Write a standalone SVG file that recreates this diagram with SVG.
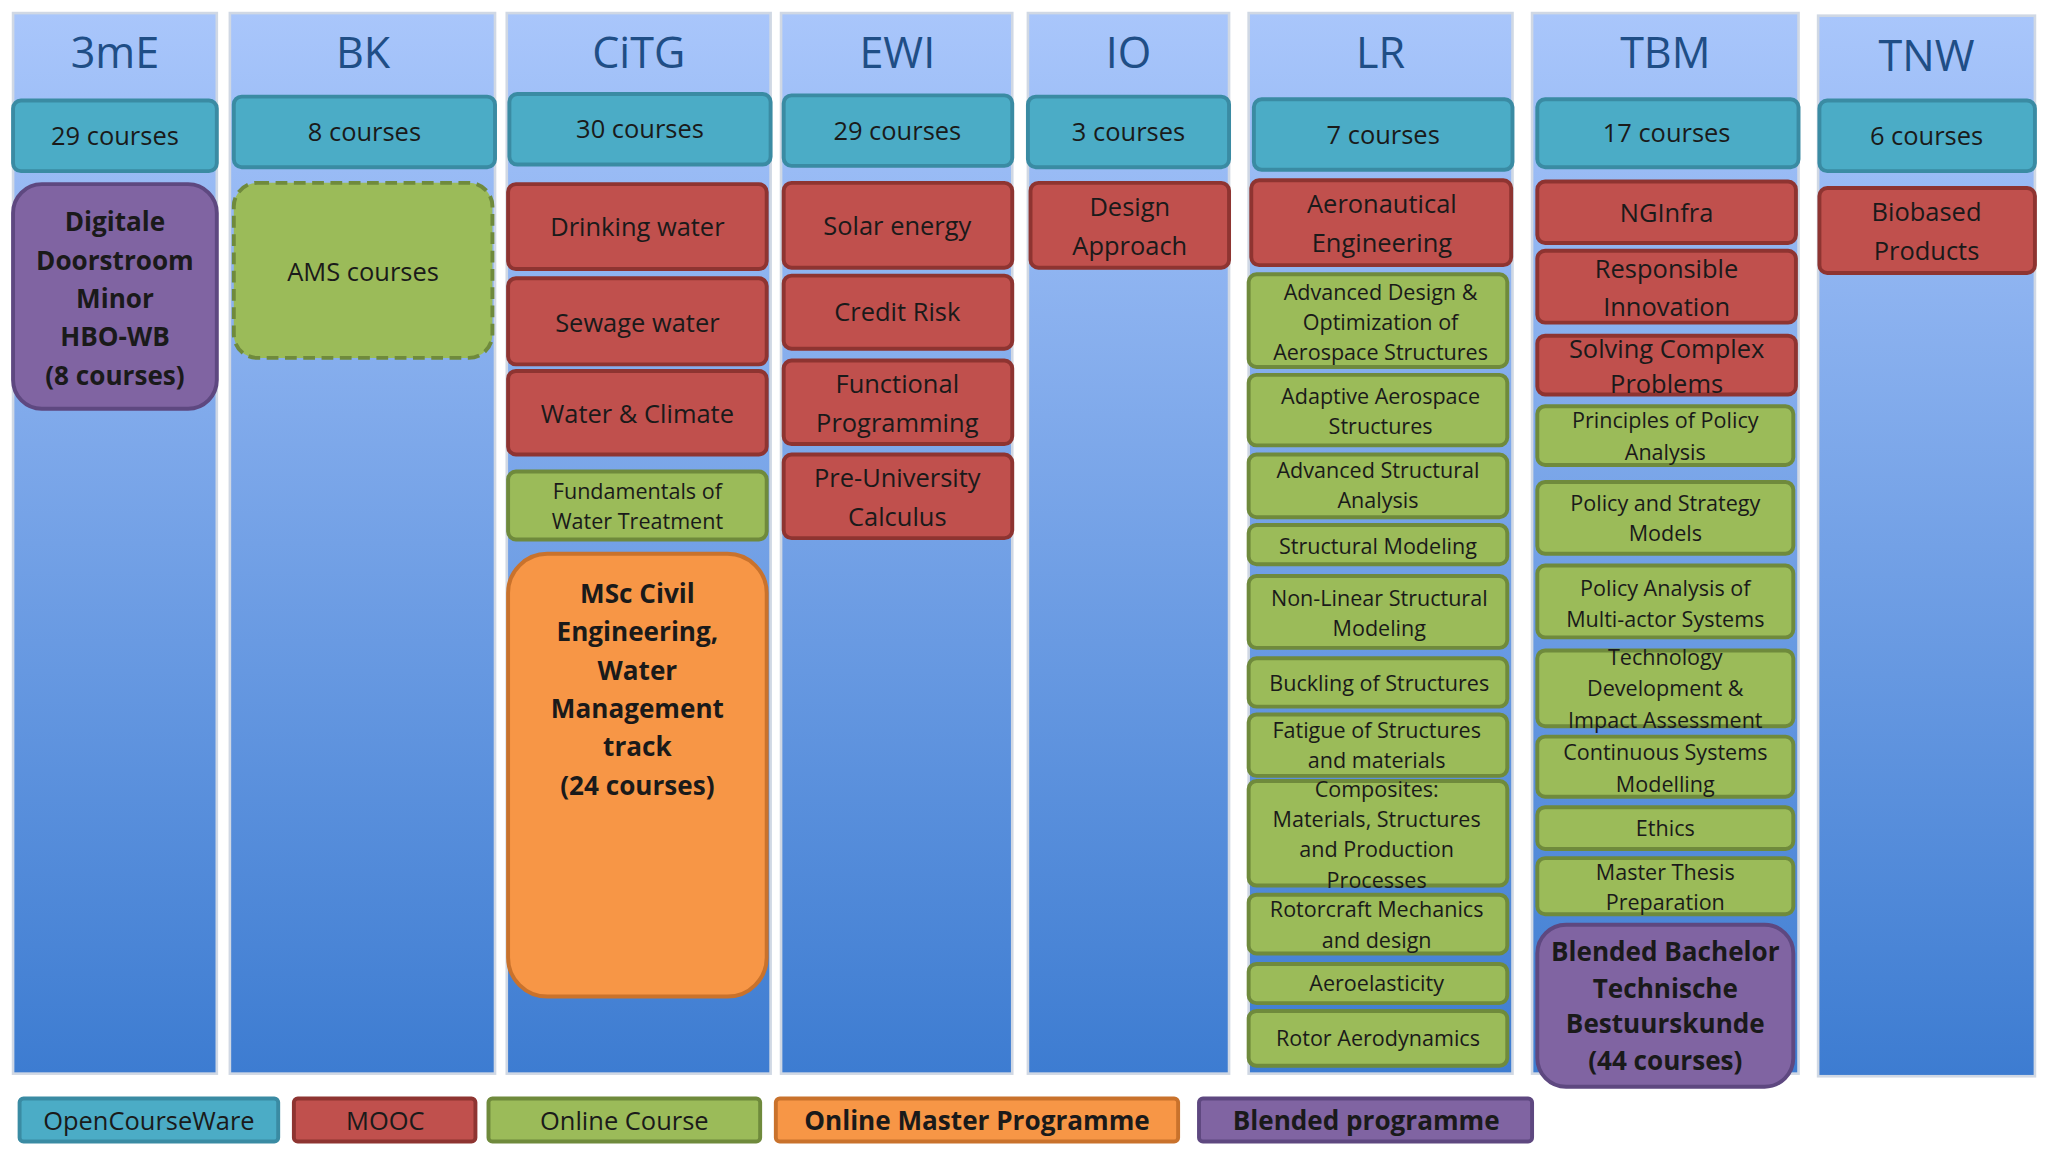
<svg xmlns="http://www.w3.org/2000/svg" width="2048" height="1152" viewBox="0 0 2048 1152">
<defs>
<linearGradient id="col" x1="0" y1="0" x2="0" y2="1">
<stop offset="0" stop-color="#a9c6fb"/><stop offset="1" stop-color="#3d7cd1"/>
</linearGradient>
<style>
text{font-family:"Open Sans","Liberation Sans",sans-serif;fill:#1a1a1a;text-anchor:middle}
.col{fill:url(#col);stroke:#d0d8e4;stroke-width:2}
.h{font-size:33px;fill:#1f4e86}
.ocw{fill:#4bacc6;stroke:#3a8ba3;stroke-width:3}
.mooc{fill:#c0504d;stroke:#8e3431;stroke-width:3}
.oc{fill:#9bbb59;stroke:#6f8a3c;stroke-width:3}
.om{fill:#f79646;stroke:#c9722c;stroke-width:3}
.bp{fill:#8064a2;stroke:#5e4880;stroke-width:3}
.t{font-size:19.5px}
.s{font-size:16.5px}
.b{font-size:20px;font-weight:bold}
</style>
</defs>
<g transform="scale(1.30612)">
<g id="columns">
<rect class="col" x="10" y="10" width="156" height="812"/>
<rect class="col" x="176" y="10" width="203" height="812"/>
<rect class="col" x="388" y="10" width="202" height="812"/>
<rect class="col" x="598" y="10" width="177" height="812"/>
<rect class="col" x="787" y="10" width="154" height="812"/>
<rect class="col" x="956" y="10" width="202" height="812"/>
<rect class="col" x="1173" y="10" width="204" height="812"/>
<rect class="col" x="1392" y="12" width="166" height="812"/>
<text class="h" x="88" y="52">3mE</text>
<text class="h" x="278" y="52">BK</text>
<text class="h" x="489" y="52">CiTG</text>
<text class="h" x="687" y="52">EWI</text>
<text class="h" x="864" y="52">IO</text>
<text class="h" x="1057" y="52">LR</text>
<text class="h" x="1275" y="52">TBM</text>
<text class="h" x="1475" y="54">TNW</text>
</g>
<g id="c3mE">
<rect class="ocw" x="10" y="77" width="156" height="54" rx="6"/><text class="t" x="88" y="111">29 courses</text>
<rect class="bp" x="10" y="141" width="156" height="172" rx="22"/>
<text class="b" x="88" y="177">Digitale</text><text class="b" x="88" y="207">Doorstroom</text><text class="b" x="88" y="236">Minor</text><text class="b" x="88" y="265">HBO-WB</text><text class="b" x="88" y="295">(8 courses)</text>
</g>
<g id="cBK">
<rect class="ocw" x="179" y="74" width="200" height="54" rx="6"/><text class="t" x="279" y="108">8 courses</text>
<rect class="oc" x="179" y="140" width="198" height="134" rx="18" stroke-dasharray="9 5"/><text class="t" x="278" y="215">AMS courses</text>
</g>
<g id="cCiTG">
<rect class="ocw" x="390" y="72" width="200" height="54" rx="6"/><text class="t" x="490" y="106">30 courses</text>
<rect class="mooc" x="389" y="141" width="198" height="65" rx="6"/><text class="t" x="488" y="181">Drinking water</text>
<rect class="mooc" x="389" y="213" width="198" height="66" rx="6"/><text class="t" x="488" y="254">Sewage water</text>
<rect class="mooc" x="389" y="284" width="198" height="64" rx="6"/><text class="t" x="488" y="324">Water &amp; Climate</text>
<rect class="oc" x="389" y="361" width="198" height="52" rx="6"/><text class="s" x="488" y="382">Fundamentals of</text><text class="s" x="488" y="405">Water Treatment</text>
<rect class="om" x="389" y="424" width="198" height="339" rx="30"/>
<text class="b" x="488" y="462">MSc Civil</text><text class="b" x="488" y="491">Engineering,</text><text class="b" x="488" y="521">Water</text><text class="b" x="488" y="550">Management</text><text class="b" x="488" y="579">track</text><text class="b" x="488" y="609">(24 courses)</text>
</g>
<g id="cEWI">
<rect class="ocw" x="600" y="73" width="175" height="54" rx="6"/><text class="t" x="687" y="107">29 courses</text>
<rect class="mooc" x="600" y="140" width="175" height="65" rx="6"/><text class="t" x="687" y="180">Solar energy</text>
<rect class="mooc" x="600" y="211" width="175" height="56" rx="6"/><text class="t" x="687" y="246">Credit Risk</text>
<rect class="mooc" x="600" y="276" width="175" height="64" rx="6"/><text class="t" x="687" y="301">Functional</text><text class="t" x="687" y="331">Programming</text>
<rect class="mooc" x="600" y="348" width="175" height="64" rx="6"/><text class="t" x="687" y="373">Pre-University</text><text class="t" x="687" y="403">Calculus</text>
</g>
<g id="cIO">
<rect class="ocw" x="787" y="74" width="154" height="54" rx="6"/><text class="t" x="864" y="108">3 courses</text>
<rect class="mooc" x="789" y="140" width="152" height="65" rx="6"/><text class="t" x="865" y="165">Design</text><text class="t" x="865" y="195">Approach</text>
</g>
<g id="cLR">
<rect class="ocw" x="960" y="76" width="198" height="54" rx="6"/><text class="t" x="1059" y="110">7 courses</text>
<rect class="mooc" x="958" y="138" width="199" height="65" rx="6"/><text class="t" x="1058" y="163">Aeronautical</text><text class="t" x="1058" y="193">Engineering</text>
<rect class="oc" x="956" y="210" width="198" height="71" rx="6"/><text class="s" x="1057" y="230">Advanced Design &amp;</text><text class="s" x="1057" y="253">Optimization of</text><text class="s" x="1057" y="276">Aerospace Structures</text>
<rect class="oc" x="956" y="287" width="198" height="54" rx="6"/><text class="s" x="1057" y="309">Adaptive Aerospace</text><text class="s" x="1057" y="332">Structures</text>
<rect class="oc" x="956" y="348" width="198" height="48" rx="6"/><text class="s" x="1055" y="366">Advanced Structural</text><text class="s" x="1055" y="389">Analysis</text>
<rect class="oc" x="956" y="402" width="198" height="30" rx="6"/><text class="s" x="1055" y="424">Structural Modeling</text>
<rect class="oc" x="956" y="441" width="198" height="55" rx="6"/><text class="s" x="1056" y="464">Non-Linear Structural</text><text class="s" x="1056" y="487">Modeling</text>
<rect class="oc" x="956" y="504" width="198" height="37" rx="6"/><text class="s" x="1056" y="529">Buckling of Structures</text>
<rect class="oc" x="956" y="547" width="198" height="47" rx="6"/><text class="s" x="1054" y="565">Fatigue of Structures</text><text class="s" x="1054" y="588">and materials</text>
<rect class="oc" x="956" y="598" width="198" height="80" rx="6"/><text class="s" x="1054" y="610">Composites:</text><text class="s" x="1054" y="633">Materials, Structures</text><text class="s" x="1054" y="656">and Production</text><text class="s" x="1054" y="680">Processes</text>
<rect class="oc" x="956" y="685" width="198" height="45" rx="6"/><text class="s" x="1054" y="702">Rotorcraft Mechanics</text><text class="s" x="1054" y="726">and design</text>
<rect class="oc" x="956" y="738" width="198" height="30" rx="6"/><text class="s" x="1054" y="759">Aeroelasticity</text>
<rect class="oc" x="956" y="774" width="198" height="42" rx="6"/><text class="s" x="1055" y="801">Rotor Aerodynamics</text>
</g>
<g id="cTBM">
<rect class="ocw" x="1177" y="76" width="200" height="52" rx="6"/><text class="t" x="1276" y="109">17 courses</text>
<rect class="mooc" x="1177" y="139" width="198" height="47" rx="6"/><text class="t" x="1276" y="170">NGInfra</text>
<rect class="mooc" x="1177" y="192" width="198" height="55" rx="6"/><text class="t" x="1276" y="213">Responsible</text><text class="t" x="1276" y="242">Innovation</text>
<rect class="mooc" x="1177" y="257" width="198" height="45" rx="6"/><text class="t" x="1276" y="274">Solving Complex</text><text class="t" x="1276" y="301">Problems</text>
<rect class="oc" x="1177" y="311" width="196" height="45" rx="6"/><text class="s" x="1275" y="328">Principles of Policy</text><text class="s" x="1275" y="352">Analysis</text>
<rect class="oc" x="1177" y="369" width="196" height="55" rx="6"/><text class="s" x="1275" y="391">Policy and Strategy</text><text class="s" x="1275" y="414">Models</text>
<rect class="oc" x="1177" y="433" width="196" height="55" rx="6"/><text class="s" x="1275" y="456">Policy Analysis of</text><text class="s" x="1275" y="480">Multi-actor Systems</text>
<rect class="oc" x="1177" y="498" width="196" height="58" rx="6"/><text class="s" x="1275" y="509">Technology</text><text class="s" x="1275" y="533">Development &amp;</text><text class="s" x="1275" y="557">Impact Assessment</text>
<rect class="oc" x="1177" y="564" width="196" height="46" rx="6"/><text class="s" x="1275" y="582">Continuous Systems</text><text class="s" x="1275" y="606">Modelling</text>
<rect class="oc" x="1177" y="618" width="196" height="32" rx="6"/><text class="s" x="1275" y="640">Ethics</text>
<rect class="oc" x="1177" y="657" width="196" height="43" rx="6"/><text class="s" x="1275" y="674">Master Thesis</text><text class="s" x="1275" y="697">Preparation</text>
<rect class="bp" x="1177" y="708" width="196" height="124" rx="22"/>
<text class="b" x="1275" y="736">Blended Bachelor</text><text class="b" x="1275" y="764">Technische</text><text class="b" x="1275" y="791">Bestuurskunde</text><text class="b" x="1275" y="819">(44 courses)</text>
</g>
<g id="cTNW">
<rect class="ocw" x="1393" y="77" width="165" height="54" rx="6"/><text class="t" x="1475" y="111">6 courses</text>
<rect class="mooc" x="1393" y="144" width="165" height="65" rx="6"/><text class="t" x="1475" y="169">Biobased</text><text class="t" x="1475" y="199">Products</text>
</g>
<g id="legend">
<rect class="ocw" x="15" y="841" width="198" height="33" rx="3"/><text class="t" x="114" y="865">OpenCourseWare</text>
<rect class="mooc" x="225" y="841" width="139" height="33" rx="3"/><text class="t" x="295" y="865">MOOC</text>
<rect class="oc" x="374" y="841" width="208" height="33" rx="3"/><text class="t" x="478" y="865">Online Course</text>
<rect class="om" x="594" y="841" width="308" height="33" rx="3"/><text class="b" x="748" y="865">Online Master Programme</text>
<rect class="bp" x="918" y="841" width="255" height="33" rx="3"/><text class="b" x="1046" y="865">Blended programme</text>
</g>
<g id="connectors"/>
</g>
</svg>
